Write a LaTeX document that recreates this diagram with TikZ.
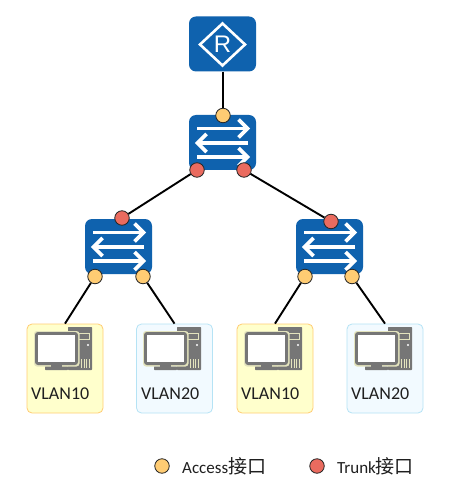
\documentclass[tikz,border=0pt]{standalone}
\usepackage{fontspec}
\setmainfont{Carlito}
\newfontfamily\cjk[Scale=1.12]{Noto Sans CJK SC}
\newfontfamily\rfont{Liberation Sans}
\definecolor{netblue}{HTML}{0F62AE}
\definecolor{accessc}{HTML}{FFCC73}
\definecolor{trunkc}{HTML}{EA6B5F}
\definecolor{pcgray}{HTML}{767676}
\definecolor{pale}{HTML}{E4E4BE}
\definecolor{hostyellow}{HTML}{FFFFCC}
\definecolor{hostblue}{HTML}{F2FAFF}
\definecolor{hostblueline}{HTML}{B5E3F5}
\tikzset{
  devbox/.style={fill=netblue,draw=none,rounded corners=7pt,minimum width=67pt,minimum height=55pt,inner sep=0pt},
  port/.style={circle,draw=black!85,line width=0.8pt,minimum size=14.5pt,inner sep=0pt},
  accessport/.style={port,fill=accessc},
  trunkport/.style={port,fill=trunkc},
  link/.style={line width=1.9pt,black},
  arrowline/.style={white,line width=3.6pt},
  hostbox/.style={rounded corners=5pt,minimum width=76pt,minimum height=89pt,inner sep=0pt,line width=0.8pt},
  yellowhost/.style={hostbox,fill=hostyellow,draw=accessc},
  bluehost/.style={hostbox,fill=hostblue,draw=hostblueline},
  lab/.style={inner sep=0pt,font=\fontsize{18}{20}\selectfont,text=black!88},
  pics/swicon/.style={code={
    \draw[arrowline] (-25.5,-14) -- (24,-14);
    \draw[arrowline] (16,-23) -- (25,-14) -- (16,-5);
    \draw[arrowline] (25.5,0.5) -- (-24,0.5);
    \draw[arrowline] (-16,-8.5) -- (-25,0.5) -- (-16,9.5);
    \draw[arrowline] (-25.5,14.5) -- (24,14.5);
    \draw[arrowline] (16,5.5) -- (25,14.5) -- (16,23.5);
  }},
  pics/pcicon/.style={code={
    \fill[pcgray,rounded corners=0.6pt] (41,3) rectangle (65,46);
    \fill[pale] (51,9) rectangle (63,16);
    \fill[pcgray] (52,10) rectangle (62,15);
    \fill[white] (61,21) circle (1.1);
    \foreach \x in {54,56.5,59,61.5}{\fill[pale] (\x,35) rectangle +(1,9);}
    \fill[pale,rounded corners=3pt] (7,7) rectangle (52.5,42.5);
    \fill[pcgray,rounded corners=3pt] (8,8) rectangle (51,41);
    \fill[white] (11,11) rectangle (48,38);
    \fill[pcgray] (24,41) rectangle (35,43);
    \fill[pcgray,rounded corners=0.6pt] (18,42.5) rectangle (41,46);
  }}
}
\begin{document}
\begin{tikzpicture}[x=1pt,y=-1pt]
\useasboundingbox (0,0) rectangle (465,478);
\fill[white] (0,0) rectangle (465,478);
% hosts
\node[yellowhost] (h1) at (65,368.5) {};
\node[bluehost] (h2) at (174.5,368.5) {};
\node[yellowhost] (h3) at (275,368.5) {};
\node[bluehost] (h4) at (385,368.5) {};
\foreach \x in {27,136,237,347}{
  \path (\x,324) pic {pcicon={}};
}
\node[lab,anchor=west] (t1) at (31,394) {VLAN10};
\node[lab,anchor=west] (t2) at (141,394) {VLAN20};
\node[lab,anchor=west] (t3) at (241,394) {VLAN10};
\node[lab,anchor=west] (t4) at (351,394) {VLAN20};
% devices
\node[devbox] (r) at (222.5,44) {};
\node[devbox] (s0) at (222.5,142.5) {};
\node[devbox] (s1) at (118.5,246.5) {};
\node[devbox] (s2) at (329.5,246.5) {};
% router icon
\draw[white,line width=2.6pt,line join=miter] (222.5,23.5) -- (245,44.5) -- (222.5,65.5) -- (200,44.5) -- cycle;
\node[inner sep=0pt,text=white,font=\fontsize{24}{24}\selectfont\rfont] (rl) at (222.5,44.5) {R};
\path (s0) pic {swicon={}};
\path (s1) pic {swicon={}};
\path (s2) pic {swicon={}};
% ports
\node[accessport] (p0) at (223,115.5) {};
\node[trunkport] (p1) at (197,170) {};
\node[trunkport] (p2) at (244,170) {};
\node[trunkport] (p3) at (122,218) {};
\node[trunkport] (p4) at (331,221.5) {};
\node[accessport] (p5) at (95,276.5) {};
\node[accessport] (p6) at (143,276.5) {};
\node[accessport] (p7) at (305,276.5) {};
\node[accessport] (p8) at (352,276.5) {};
% links
\draw[link] (r.south -| p0) -- (p0);
\draw[link] (p1) -- (p3);
\draw[link] (p2) -- (p4);
\draw[link] (p5) -- (h1.north);
\draw[link] (p6) -- (h2.north);
\draw[link] (p7) -- (h3.north);
\draw[link] (p8) -- (h4.north);
% legend
\node[accessport] (la) at (162,466) {};
\node[lab,anchor=west,font=\fontsize{17}{20}\selectfont] (lat) at (182,466) {Access{\cjk 接口}};
\node[trunkport] (lb) at (317,466) {};
\node[lab,anchor=west,font=\fontsize{17}{20}\selectfont] (lbt) at (337,466) {Trunk{\cjk 接口}};
\end{tikzpicture}
\end{document}
